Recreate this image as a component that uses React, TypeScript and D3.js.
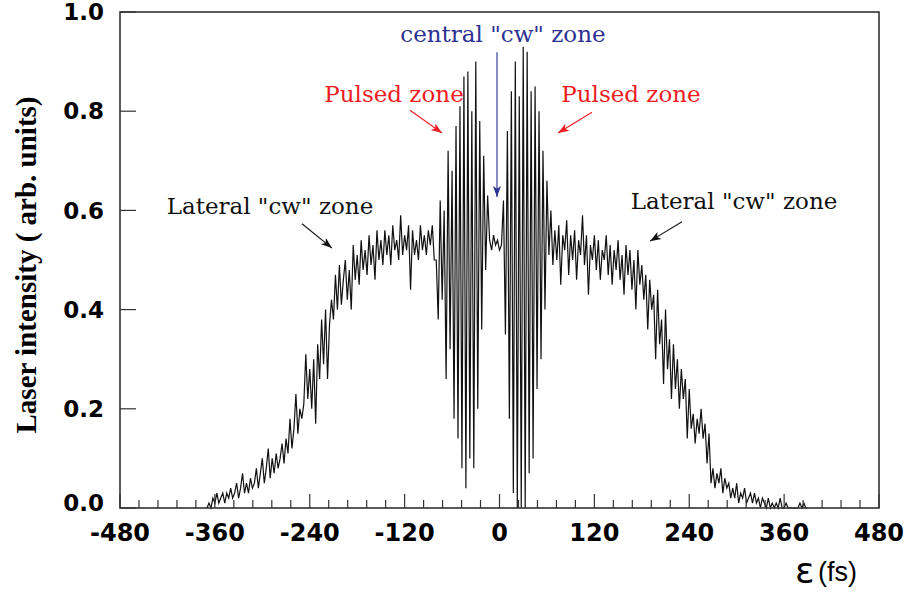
import React from "react";
import * as d3 from "d3";

/* Samples, 2.5 fs apart, one array per zone */
const sampleStep = 2.5;

const leftWingStart = -370;
const leftWing = [
  0.0, 0.01, 0.0, 0.02, 0.01, 0.03, 0.01, 0.02, 0.03, 0.01,
  0.03, 0.02, 0.04, 0.02, 0.03, 0.05, 0.02, 0.04, 0.07, 0.03,
  0.05, 0.03, 0.06, 0.04, 0.05, 0.08, 0.04, 0.07, 0.1, 0.05,
  0.08, 0.12, 0.06, 0.1, 0.07, 0.11, 0.08, 0.1, 0.13, 0.09,
  0.14, 0.11, 0.18, 0.12, 0.16, 0.23, 0.15, 0.2, 0.18, 0.21,
  0.31, 0.22, 0.28, 0.2, 0.3, 0.17, 0.33, 0.26, 0.38, 0.29,
  0.4, 0.26, 0.37, 0.42, 0.38, 0.47, 0.4, 0.49, 0.41, 0.46,
  0.5, 0.42, 0.48, 0.4, 0.53, 0.46, 0.51, 0.45, 0.54, 0.48,
  0.52, 0.47, 0.55, 0.49, 0.53, 0.46, 0.56, 0.5, 0.54, 0.49,
  0.56, 0.51, 0.55, 0.49, 0.57, 0.52, 0.54, 0.5, 0.59, 0.51,
  0.55, 0.52, 0.57, 0.44, 0.56, 0.51, 0.54, 0.5, 0.57, 0.52,
  0.55, 0.51, 0.56, 0.53, 0.57, 0.5,
];

const leftPulseStart = -80;
const leftPulse = [
  0.5, 0.38, 0.62, 0.42, 0.6, 0.26, 0.72, 0.32, 0.68, 0.18,
  0.77, 0.14, 0.81, 0.08, 0.87, 0.04, 0.88, 0.1, 0.8, 0.08,
  0.9, 0.2, 0.78, 0.36, 0.71, 0.48, 0.63,
];

const centralStart = -12.5;
const centralCw = [0.54, 0.52, 0.55, 0.53, 0.54, 0.52, 0.53];

const rightPulseStart = 5;
const rightPulse = [
  0.62, 0.35, 0.76, 0.18, 0.84, 0.03, 0.9, 0.0, 0.83, 0.0,
  0.93, 0.0, 0.92, 0.07, 0.84, 0.1, 0.85, 0.24, 0.8, 0.3,
  0.72, 0.4, 0.66, 0.51, 0.6, 0.49,
];

const rightWingStart = 70;
const rightWing = [
  0.56, 0.5, 0.57, 0.45, 0.55, 0.52, 0.58, 0.47, 0.55, 0.5,
  0.56, 0.46, 0.54, 0.51, 0.59, 0.49, 0.55, 0.43, 0.53, 0.5,
  0.55, 0.48, 0.54, 0.46, 0.52, 0.5, 0.55, 0.47, 0.53, 0.45,
  0.52, 0.48, 0.54, 0.46, 0.51, 0.43, 0.53, 0.47, 0.52, 0.44,
  0.5, 0.4, 0.52, 0.45, 0.49, 0.42, 0.47, 0.36, 0.46, 0.4,
  0.43, 0.3, 0.44, 0.33, 0.38, 0.25, 0.4, 0.28, 0.34, 0.22,
  0.33, 0.24, 0.3, 0.2, 0.28, 0.22, 0.26, 0.14, 0.24, 0.16,
  0.19, 0.13, 0.18, 0.15, 0.2, 0.14, 0.17, 0.09, 0.15, 0.05,
  0.08, 0.04, 0.07, 0.05, 0.08, 0.03, 0.06, 0.04, 0.05, 0.02,
  0.04, 0.02, 0.05, 0.01, 0.03, 0.02, 0.04, 0.01, 0.02, 0.03,
  0.01, 0.03, 0.01, 0.02, 0.0, 0.02, 0.01, 0.0, 0.02, 0.0,
  0.01, 0.0, 0.01, 0.0, 0.02, 0.0, 0.0, 0.01, 0.0, 0.0,
  0.0, 0.0, 0.0, 0.0, 0.01, 0.0, 0.01, 0.0, 0.0,
];

const xTickLabels = [-480, -360, -240, -120, 0, 120, 240, 360, 480];
const yTickLabels = [0.0, 0.2, 0.4, 0.6, 0.8, 1.0];

/* Annotations in data units: [t, v] */
const annotations = [
  { text: 'central "cw" zone', color: "#2e3192", at: [4.4, 0.94], from: [-3.2, 0.919], to: [-3.2, 0.627] },
  { text: "Pulsed zone", color: "#ed1c24", at: [-133.4, 0.819], from: [-113.2, 0.802], to: [-72.7, 0.756] },
  { text: "Pulsed zone", color: "#ed1c24", at: [166.3, 0.819], from: [117, 0.798], to: [74, 0.756] },
  { text: 'Lateral "cw" zone', color: "#111", at: [-290.3, 0.593], from: [-249.8, 0.573], to: [-211.9, 0.524] },
  { text: 'Lateral "cw" zone', color: "#111", at: [296.6, 0.603], from: [230.8, 0.577], to: [190.4, 0.538] },
];

const width = 904;
const height = 593;
const plot = { left: 120, right: 879, top: 12, bottom: 508 };

const segments: [number, number[]][] = [
  [leftWingStart, leftWing],
  [leftPulseStart, leftPulse],
  [centralStart, centralCw],
  [rightPulseStart, rightPulse],
  [rightWingStart, rightWing],
];

const trace: [number, number][] = segments.flatMap(([start, vals]) =>
  vals.map((v, i) => [start + i * sampleStep, v] as [number, number])
);

const App = () => {
  const x = d3.scaleLinear().domain([-480, 480]).range([plot.left, plot.right]);
  const y = d3.scaleLinear().domain([0, 1]).range([plot.bottom, plot.top]);

  const line = d3
    .line<[number, number]>()
    .x((d) => x(d[0]))
    .y((d) => y(d[1]));

  const minorTicks = d3.range(-480, 481, 24);

  const arrowHead = (x1: number, y1: number, x2: number, y2: number) => {
    const a = Math.atan2(y2 - y1, x2 - x1);
    const len = 11;
    const half = 4;
    const bx = x2 - len * Math.cos(a);
    const by = y2 - len * Math.sin(a);
    const px = -Math.sin(a) * half;
    const py = Math.cos(a) * half;
    return `M${x2},${y2}L${bx + px},${by + py}L${bx + len * 0.25 * Math.cos(a)},${by + len * 0.25 * Math.sin(a)}L${bx - px},${by - py}Z`;
  };

  return (
    <>
      <style>{`body{margin:0}`}</style>
      <svg width={width} height={height} style={{ display: "block", background: "#fff" }}>
        {/* trace */}
        <path d={line(trace) || ""} fill="none" stroke="#111" strokeWidth={1.2} />

        {/* frame */}
        <rect
          x={plot.left}
          y={plot.top}
          width={plot.right - plot.left}
          height={plot.bottom - plot.top}
          fill="none"
          stroke="#333"
          strokeWidth={1.6}
        />

        {/* x ticks */}
        {minorTicks.map((t) => {
          const major = t % 120 === 0;
          return (
            <line
              key={t}
              x1={x(t)}
              x2={x(t)}
              y1={plot.bottom}
              y2={plot.bottom - (major ? 14 : 8)}
              stroke="#333"
              strokeWidth={1.2}
            />
          );
        })}
        {xTickLabels.map((t) => (
          <text
            key={t}
            x={x(t)}
            y={541}
            textAnchor="middle"
            fontFamily="DejaVu Sans"
            fontWeight="bold"
            fontSize={24}
            fill="#000"
          >
            {t}
          </text>
        ))}

        {/* y ticks */}
        {yTickLabels.map((v) => (
          <g key={v}>
            <line x1={plot.left} x2={plot.left + 16} y1={y(v)} y2={y(v)} stroke="#333" strokeWidth={1.2} />
            <text
              x={104}
              y={y(v) - (v === 0 ? 5 : 0)}
              dy="0.36em"
              textAnchor="end"
              fontFamily="DejaVu Sans"
              fontWeight="bold"
              fontSize={23}
              fill="#000"
            >
              {v.toFixed(1)}
            </text>
          </g>
        ))}

        {/* axis titles */}
        <text
          transform={`translate(36,${(plot.top + plot.bottom) / 2 + 5}) rotate(-90)`}
          textAnchor="middle"
          fontFamily="Liberation Serif"
          fontWeight="bold"
          fontSize={29}
          fill="#000"
        >
          Laser intensity ( arb. units)
        </text>
        <text x={795} y={583} fontFamily="DejaVu Sans" fontSize={36} fill="#000">
          ε
        </text>
        <text x={818} y={581} fontFamily="Liberation Sans" fontSize={27} fill="#000">
          (fs)
        </text>

        {/* annotations */}
        {annotations.map((a, i) => {
          const x1 = x(a.from[0]);
          const y1 = y(a.from[1]);
          const x2 = x(a.to[0]);
          const y2 = y(a.to[1]);
          return (
            <g key={i}>
              <text
                x={x(a.at[0])}
                y={y(a.at[1])}
                textAnchor="middle"
                fontFamily="DejaVu Serif"
                fontSize={23}
                fill={a.color}
              >
                {a.text}
              </text>
              <line x1={x1} y1={y1} x2={x2} y2={y2} stroke={a.color} strokeWidth={1.1} />
              <path d={arrowHead(x1, y1, x2, y2)} fill={a.color} />
            </g>
          );
        })}
      </svg>
    </>
  );
};

export default App;
